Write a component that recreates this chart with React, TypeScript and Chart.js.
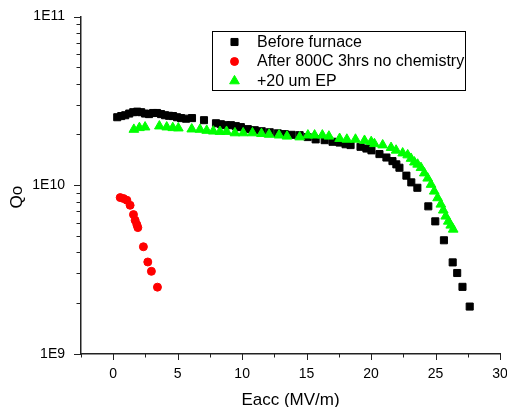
import React, { useEffect, useRef } from "react";
import { Chart, registerables } from "chart.js";
import { drawPoint } from "chart.js/helpers";

Chart.register(...registerables);

// ---- data ----
const seriesNames = ["Before furnace", "After 800C 3hrs no chemistry", "+20 um EP"];

const beforeEacc = [0.31, 0.62, 0.93, 1.24, 1.55, 1.86, 2.17, 2.47, 2.78, 3.09, 3.40, 3.71, 4.02, 4.33, 4.64, 4.95, 5.26, 5.65, 6.11, 7.04, 7.97, 8.35, 8.74, 9.13, 9.51, 9.90, 10.44, 10.98, 11.52, 12.14, 12.76, 13.30, 13.84, 14.46, 15.08, 15.70, 16.40, 17.01, 17.56, 18.02, 18.41, 19.18, 19.64, 20.03, 20.65, 21.19, 21.66, 21.96, 22.20, 22.74, 23.12, 23.59, 24.44, 24.98, 25.65, 26.33, 26.68, 27.09, 27.65];
const beforeQo = [2.53e10, 2.57e10, 2.60e10, 2.66e10, 2.71e10, 2.73e10, 2.71e10, 2.66e10, 2.64e10, 2.68e10, 2.68e10, 2.64e10, 2.60e10, 2.58e10, 2.57e10, 2.53e10, 2.50e10, 2.48e10, 2.50e10, 2.43e10, 2.33e10, 2.30e10, 2.27e10, 2.27e10, 2.24e10, 2.21e10, 2.15e10, 2.12e10, 2.09e10, 2.06e10, 2.03e10, 2.01e10, 1.99e10, 1.98e10, 1.93e10, 1.87e10, 1.85e10, 1.81e10, 1.79e10, 1.75e10, 1.73e10, 1.69e10, 1.65e10, 1.61e10, 1.53e10, 1.46e10, 1.39e10, 1.33e10, 1.27e10, 1.14e10, 1.04e10, 9.66e9, 7.50e9, 6.11e9, 4.72e9, 3.49e9, 3.02e9, 2.50e9, 1.91e9];

const afterEacc = [0.54, 0.80, 1.06, 1.31, 1.57, 1.70, 1.83, 1.91, 2.34, 2.68, 2.96, 3.43];
const afterQo = [8.45e9, 8.34e9, 8.15e9, 7.61e9, 6.70e9, 6.20e9, 5.85e9, 5.61e9, 4.32e9, 3.51e9, 3.09e9, 2.49e9];

const epEacc = [1.60, 2.03, 2.47, 3.58, 4.15, 4.62, 5.05, 6.09, 6.73, 7.25, 7.76, 8.28, 8.79, 9.44, 10.08, 10.80, 11.50, 12.09, 12.86, 13.48, 14.46, 15.10, 15.62, 16.22, 16.73, 17.56, 18.12, 18.79, 19.49, 20.01, 20.26, 20.90, 21.55, 21.94, 22.45, 22.84, 23.10, 23.36, 23.61, 23.87, 24.13, 24.39, 24.65, 24.90, 25.16, 25.41, 25.60, 25.79, 25.99, 26.18, 26.37];
const epQo = [2.14e10, 2.19e10, 2.21e10, 2.24e10, 2.21e10, 2.19e10, 2.18e10, 2.15e10, 2.14e10, 2.11e10, 2.09e10, 2.08e10, 2.08e10, 2.04e10, 2.04e10, 2.04e10, 2.02e10, 2.00e10, 1.98e10, 1.95e10, 1.93e10, 1.98e10, 1.98e10, 1.98e10, 1.95e10, 1.89e10, 1.87e10, 1.87e10, 1.84e10, 1.81e10, 1.76e10, 1.73e10, 1.67e10, 1.61e10, 1.55e10, 1.51e10, 1.44e10, 1.37e10, 1.33e10, 1.27e10, 1.18e10, 1.10e10, 1.01e10, 9.21e9, 8.41e9, 7.71e9, 7.11e9, 6.55e9, 6.11e9, 5.79e9, 5.48e9];

const xTicks = [0, 5, 10, 15, 20, 25, 30];
const yTicks = [1e9, 1e10, 1e11];
const yTickLabels = ["1E9", "1E10", "1E11"];

const FONT = "'Liberation Sans', Arial, sans-serif";

const toPoints = (xs: number[], ys: number[]) => xs.map((x, i) => ({ x, y: ys[i] }));

const tickPlugin = {
  id: "axisTicks",
  afterDraw(chart: any) {
    const { ctx, chartArea } = chart;
    const xs = chart.scales.x;
    const ys = chart.scales.y;
    ctx.save();
    ctx.strokeStyle = "#222";
    ctx.lineWidth = 1;
    ctx.beginPath();
    const bottom = chartArea.bottom;
    const left = chartArea.left;
    for (let v = xs.min; v <= xs.max + 1e-9; v += 2.5) {
      const major = Math.abs(v % 5) < 1e-9;
      const px = Math.round(xs.getPixelForValue(v)) + 0.5;
      ctx.moveTo(px, bottom);
      ctx.lineTo(px, bottom + (major ? 6 : 3.5));
    }
    for (let d = ys.min; d <= ys.max * 1.0001; d *= 10) {
      const py = Math.round(ys.getPixelForValue(d)) + 0.5;
      ctx.moveTo(left, py);
      ctx.lineTo(left - 7, py);
      if (d < ys.max * 0.999) {
        for (let k = 2; k <= 9; k++) {
          const pm = Math.round(ys.getPixelForValue(d * k)) + 0.5;
          ctx.moveTo(left, pm);
          ctx.lineTo(left - 4.5, pm);
        }
      }
    }
    ctx.stroke();
    ctx.restore();
  },
};

const legendPlugin = {
  id: "boxLegend",
  afterDatasetsDraw(chart: any) {
    const { ctx } = chart;
    ctx.save();
    ctx.strokeStyle = "#000";
    ctx.lineWidth = 1;
    ctx.fillStyle = "#fff";
    ctx.fillRect(212.5, 31.5, 253, 59);
    ctx.strokeRect(212.5, 31.5, 253, 59);
    const rows = [42, 61.5, 81];
    chart.data.datasets.forEach((ds: any, i: number) => {
      ctx.fillStyle = ds.backgroundColor;
      ctx.strokeStyle = ds.borderColor;
      ctx.lineWidth = 1;
      drawPoint(ctx, { pointStyle: ds.pointStyle, radius: ds.legendRadius, rotation: 0, borderWidth: 1 }, 234.5, rows[i]);
      ctx.fillStyle = "#000";
      ctx.font = `16px ${FONT}`;
      ctx.textBaseline = "middle";
      ctx.textAlign = "left";
      ctx.fillText(ds.label, 257, rows[i] + 0.5);
    });
    ctx.restore();
  },
};

export default function App() {
  const ref = useRef<HTMLCanvasElement | null>(null);
  useEffect(() => {
    if (!ref.current) return;
    const chart = new Chart(ref.current, {
      type: "scatter",
      data: {
        datasets: [
          {
            label: seriesNames[0],
            data: toPoints(beforeEacc, beforeQo),
            pointStyle: "rect",
            pointRadius: 5,
            backgroundColor: "#000000",
            borderColor: "#000000",
            borderWidth: 1,
            order: 2,
            legendRadius: 5,
          } as any,
          {
            label: seriesNames[1],
            data: toPoints(afterEacc, afterQo),
            pointStyle: "circle",
            pointRadius: 4,
            backgroundColor: "#ff0000",
            borderColor: "#ff0000",
            borderWidth: 1,
            order: 1,
            legendRadius: 4,
          } as any,
          {
            label: seriesNames[2],
            data: toPoints(epEacc, epQo),
            pointStyle: "triangle",
            pointRadius: 5.6,
            backgroundColor: "#00ff00",
            borderColor: "#00ff00",
            borderWidth: 1,
            order: 0,
            legendRadius: 5.6,
          } as any,
        ],
      },
      options: {
        responsive: false,
        animation: false,
        layout: { padding: { left: 0, right: 7, top: 16.5, bottom: 0 } },
        plugins: { legend: { display: false }, tooltip: { enabled: false } },
        scales: {
          x: {
            type: "linear",
            min: -2.5,
            max: 30,
            grid: { display: false },
            border: { display: true, color: "#222", width: 1.5 },
            afterBuildTicks: (s: any) => {
              s.ticks = xTicks.map((v) => ({ value: v }));
            },
            afterFit: (s: any) => {
              s.height = 53;
              s.paddingLeft = 0;
              s.paddingRight = 0;
            },
            ticks: {
              color: "#000",
              font: { family: FONT, size: 14 },
              padding: 4,
              maxRotation: 0,
              autoSkip: false,
            },
            title: {
              display: true,
              text: "Eacc (MV/m)",
              color: "#000",
              font: { family: FONT, size: 17 },
              padding: { top: 0, bottom: -4 },
            },
          },
          y: {
            type: "logarithmic",
            min: 1e9,
            max: 1e11,
            grid: { display: false },
            border: { display: true, color: "#222", width: 1.5 },
            afterBuildTicks: (s: any) => {
              s.ticks = yTicks.map((v) => ({ value: v }));
            },
            afterFit: (s: any) => {
              s.width = 81;
              s.paddingTop = 0;
              s.paddingBottom = 0;
            },
            ticks: {
              color: "#000",
              font: { family: FONT, size: 14 },
              padding: 8,
              autoSkip: false,
              callback: (v: any) => {
                const i = yTicks.indexOf(Number(v));
                return i >= 0 ? yTickLabels[i] : "";
              },
            },
            title: {
              display: true,
              text: "Qo     ",
              color: "#000",
              font: { family: FONT, size: 17 },
              padding: { top: 7, bottom: 0 },
            },
          },
        },
      },
      plugins: [tickPlugin, legendPlugin],
    });
    return () => chart.destroy();
  }, []);
  return (
    <div style={{ position: "absolute", left: 0, top: 0, width: 507, height: 407, background: "#fff" }}>
      <canvas ref={ref} width={507} height={407} style={{ display: "block" }} />
    </div>
  );
}
